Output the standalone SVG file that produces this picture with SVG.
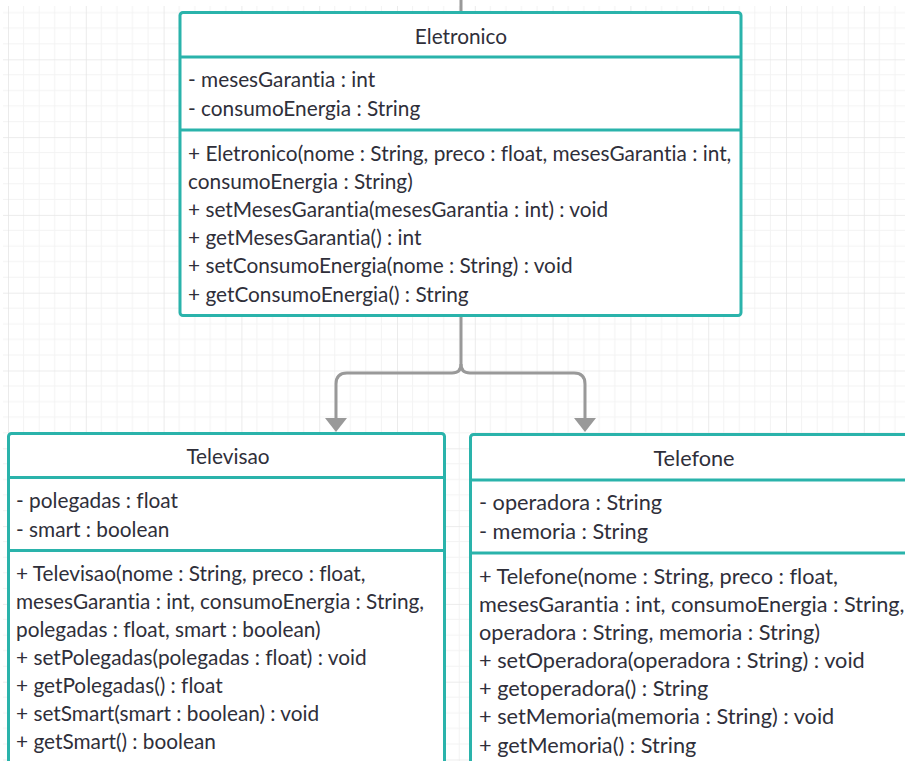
<svg xmlns="http://www.w3.org/2000/svg" width="905" height="761" viewBox="0 0 905 761">
  <defs>
    <pattern id="grid" patternUnits="userSpaceOnUse" x="8" y="59.3" width="77.8" height="77.8">
      <g stroke="#f3f3f3" stroke-width="1">
        <line x1="15.56" y1="0" x2="15.56" y2="77.8"/>
        <line x1="31.12" y1="0" x2="31.12" y2="77.8"/>
        <line x1="46.68" y1="0" x2="46.68" y2="77.8"/>
        <line x1="62.24" y1="0" x2="62.24" y2="77.8"/>
        <line x1="0" y1="15.56" x2="77.8" y2="15.56"/>
        <line x1="0" y1="31.12" x2="77.8" y2="31.12"/>
        <line x1="0" y1="46.68" x2="77.8" y2="46.68"/>
        <line x1="0" y1="62.24" x2="77.8" y2="62.24"/>
      </g>
      <g stroke="#e6e6e6" stroke-width="1.6">
        <line x1="0" y1="0" x2="0" y2="77.8"/>
        <line x1="0" y1="0" x2="77.8" y2="0"/>
      </g>
    </pattern>
    <!-- filled triangle arrowhead, drawn pointing along +x so orient="auto" turns it with the path -->
    <marker id="arrow" markerUnits="userSpaceOnUse" markerWidth="16" markerHeight="24" refX="1" refY="11" orient="auto" viewBox="0 0 16 22">
      <polygon points="0,0 14,11 0,22" fill="#999999"/>
    </marker>
    <style>
      .box { fill: #ffffff; stroke: #2ab3ab; stroke-width: 3; }
      .div { stroke: #2ab3ab; stroke-width: 3; }
      .t { font-family: Lato, "Liberation Sans", sans-serif; font-size: 20.8px; fill: #2f2f3a; font-variant-ligatures: none; }
      .t2 { font-family: Lato, "Liberation Sans", sans-serif; font-size: 21.7px; fill: #2f2f3a; font-variant-ligatures: none; }
      .title { text-anchor: middle; }
      .edge { fill: none; stroke: #999999; stroke-width: 3; }
    </style>
  </defs>

  <!-- canvas background -->
  <rect x="0" y="0" width="905" height="761" fill="#ffffff"/>
  <rect x="3" y="6" width="902" height="755" fill="url(#grid)"/>

  <!-- connectors -->
  <g id="connectors">
    <line class="edge" x1="461" y1="0" x2="461" y2="12" stroke-width="2"/>
    <path class="edge" d="M461,316 V364 Q461,373 452,373 H347 Q336,373 336,384 V419" marker-end="url(#arrow)"/>
    <path class="edge" d="M461,364 Q461,373 470,373 H574 Q585,373 585,384 V419" marker-end="url(#arrow)"/>
  </g>

  <!-- Eletronico -->
  <g id="eletronico">
    <rect class="box" x="180" y="12.5" width="561" height="303" rx="3"/>
    <line class="div" x1="180" y1="57" x2="741" y2="57"/>
    <line class="div" x1="180" y1="130" x2="741" y2="130"/>
    <text class="t title" x="461" y="44">Eletronico</text>
    <text class="t" x="188" y="87">- mesesGarantia : int</text>
    <text class="t" x="188" y="116">- consumoEnergia : String</text>
    <text class="t" x="188" y="161">+ Eletronico(nome : String, preco : float, mesesGarantia : int,</text>
    <text class="t" x="188" y="189">consumoEnergia : String)</text>
    <text class="t" x="188" y="217">+ setMesesGarantia(mesesGarantia : int) : void</text>
    <text class="t" x="188" y="245">+ getMesesGarantia() : int</text>
    <text class="t" x="188" y="273">+ setConsumoEnergia(nome : String) : void</text>
    <text class="t" x="188" y="302">+ getConsumoEnergia() : String</text>
  </g>

  <!-- Televisao -->
  <g id="televisao">
    <rect class="box" x="8.5" y="433.5" width="436" height="350" rx="3"/>
    <line class="div" x1="8.5" y1="477.5" x2="444.5" y2="477.5"/>
    <line class="div" x1="8.5" y1="550.5" x2="444.5" y2="550.5"/>
    <text class="t title" x="228" y="464">Televisao</text>
    <text class="t" x="16" y="508">- polegadas : float</text>
    <text class="t" x="16" y="537">- smart : boolean</text>
    <text class="t" x="16" y="581">+ Televisao(nome : String, preco : float,</text>
    <text class="t" x="16" y="609">mesesGarantia : int, consumoEnergia : String,</text>
    <text class="t" x="16" y="637">polegadas : float, smart : boolean)</text>
    <text class="t" x="16" y="665">+ setPolegadas(polegadas : float) : void</text>
    <text class="t" x="16" y="693">+ getPolegadas() : float</text>
    <text class="t" x="16" y="721">+ setSmart(smart : boolean) : void</text>
    <text class="t" x="16" y="749">+ getSmart() : boolean</text>
  </g>

  <!-- Telefone -->
  <g id="telefone">
    <rect class="box" x="470.5" y="434.5" width="460" height="350" rx="3"/>
    <line class="div" x1="470.5" y1="480" x2="930" y2="480"/>
    <line class="div" x1="470.5" y1="553" x2="930" y2="553"/>
    <text class="t2 title" x="694" y="466">Telefone</text>
    <text class="t2" x="479" y="510">- operadora : String</text>
    <text class="t2" x="479" y="539">- memoria : String</text>
    <text class="t2" x="479" y="584">+ Telefone(nome : String, preco : float,</text>
    <text class="t2" x="479" y="612">mesesGarantia : int, consumoEnergia : String,</text>
    <text class="t2" x="479" y="640">operadora : String, memoria : String)</text>
    <text class="t2" x="479" y="668">+ setOperadora(operadora : String) : void</text>
    <text class="t2" x="479" y="696">+ getoperadora() : String</text>
    <text class="t2" x="479" y="724">+ setMemoria(memoria : String) : void</text>
    <text class="t2" x="479" y="753">+ getMemoria() : String</text>
  </g>
</svg>
